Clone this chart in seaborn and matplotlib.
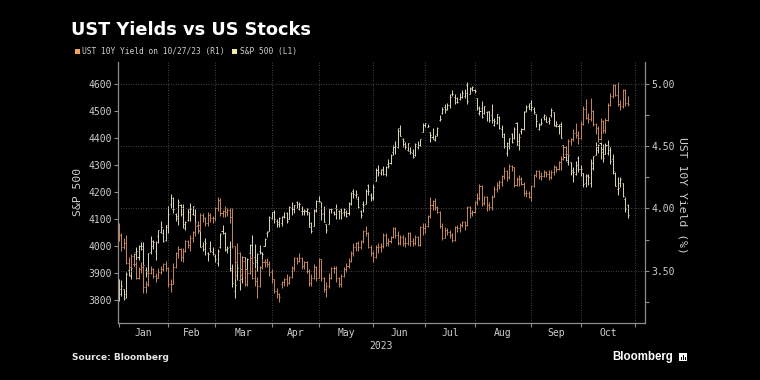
import numpy as np
import pandas as pd
import matplotlib
matplotlib.use("Agg")
import matplotlib.pyplot as plt
from matplotlib.patches import Rectangle
import seaborn as sns

# ---------------- data (daily OHLC, Jan 3 - Oct 27 2023) ----------------
holidays = ["2023-01-16", "2023-02-20", "2023-04-07", "2023-05-29",
            "2023-06-19", "2023-07-04", "2023-09-04"]
month_labels = ["Jan", "Feb", "Mar", "Apr", "May", "Jun", "Jul", "Aug", "Sep", "Oct"]

spx_open = [
    3853, 3840, 3840, 3823, 3910, 3889, 3932, 3977, 3961, 3999, 4002, 3911, 3909, 3979, 4001, 3982, 4036, 4053, 4049, 4021,
    4071, 4158, 4137, 4120, 4106, 4153, 4144, 4069, 4096, 4126, 4119, 4115, 4077, 4057, 4002, 4018, 3973, 3993, 3977,
    3964, 3938, 3998, 4055, 4049, 3988, 3998, 3912, 3835, 3894, 3876, 3878, 3959, 3917, 3975, 4003, 3959, 3940, 3982, 3975, 3999, 4047, 4057,
    4103, 4128, 4094, 4082, 4085, 4111, 4124, 4101, 4140, 4138, 4165, 4139, 4131, 4132, 4132, 4126, 4087, 4075, 4129,
    4166, 4165, 4123, 4082, 4084, 4137, 4125, 4143, 4132, 4139, 4127, 4127, 4123, 4157, 4204, 4191, 4176, 4132, 4155, 4156, 4227, 4191,
    4184, 4242, 4282, 4271, 4285, 4268, 4304, 4308, 4350, 4366, 4366, 4440, 4396, 4380, 4356, 4354, 4345, 4338, 4367, 4375, 4422,
    4451, 4443, 4422, 4404, 4394, 4415, 4467, 4492, 4515, 4508, 4522, 4566, 4554, 4550, 4544, 4555, 4558, 4599, 4565, 4585,
    4579, 4550, 4494, 4514, 4492, 4498, 4502, 4487, 4451, 4458, 4479, 4433, 4416, 4345, 4381, 4416, 4400, 4456, 4390, 4426, 4433, 4500, 4518,
    4530, 4510, 4490, 4434, 4452, 4480, 4473, 4463, 4487, 4498, 4446, 4445, 4453, 4375, 4341, 4311, 4313, 4282, 4269, 4328,
    4285, 4270, 4234, 4259, 4235, 4290, 4339, 4366, 4381, 4360, 4342, 4345, 4358, 4322, 4273, 4211, 4235, 4233, 4176, 4152,
]
spx_high = [
    3879, 3873, 3840, 3906, 3951, 3920, 3971, 3998, 4003, 4015, 4015, 3923, 3973, 4039, 4023, 4019, 4061, 4094, 4063, 4077,
    4148, 4195, 4183, 4124, 4176, 4157, 4157, 4095, 4138, 4159, 4149, 4136, 4082, 4057, 4017, 4029, 3979, 4019, 3998,
    3972, 3990, 4048, 4079, 4051, 4001, 4018, 3934, 3905, 3937, 3894, 3964, 3959, 3956, 4009, 4040, 4007, 3973, 4003, 3979, 4031, 4057, 4110,
    4128, 4134, 4100, 4108, 4110, 4125, 4125, 4148, 4164, 4152, 4169, 4163, 4148, 4139, 4143, 4127, 4089, 4138, 4170,
    4186, 4165, 4148, 4083, 4138, 4143, 4130, 4155, 4133, 4143, 4141, 4135, 4165, 4202, 4213, 4210, 4186, 4133, 4166, 4213, 4232, 4196,
    4232, 4290, 4300, 4288, 4299, 4298, 4322, 4340, 4375, 4391, 4439, 4448, 4400, 4387, 4383, 4366, 4362, 4384, 4390, 4398, 4458,
    4457, 4453, 4423, 4440, 4412, 4441, 4488, 4517, 4528, 4532, 4563, 4578, 4565, 4555, 4568, 4581, 4583, 4607, 4590, 4595,
    4584, 4550, 4519, 4540, 4520, 4503, 4503, 4527, 4476, 4490, 4481, 4450, 4421, 4387, 4401, 4418, 4441, 4459, 4418, 4438, 4501, 4522, 4532,
    4541, 4515, 4491, 4457, 4474, 4490, 4481, 4479, 4511, 4498, 4466, 4452, 4461, 4376, 4357, 4338, 4313, 4292, 4317, 4333,
    4300, 4272, 4268, 4268, 4325, 4336, 4385, 4378, 4386, 4378, 4383, 4394, 4367, 4340, 4276, 4256, 4255, 4236, 4184, 4156,
]
spx_low = [
    3795, 3815, 3802, 3809, 3888, 3878, 3925, 3950, 3947, 3984, 3925, 3885, 3900, 3972, 3989, 3950, 4013, 4049, 4015, 4020,
    4048, 4141, 4124, 4094, 4080, 4112, 4069, 4060, 4092, 4095, 4114, 4089, 4048, 3996, 3982, 3969, 3944, 3977, 3969,
    3940, 3928, 3995, 4044, 3981, 3975, 3909, 3847, 3809, 3874, 3839, 3864, 3901, 3917, 3972, 3937, 3919, 3908, 3971, 3951, 3999, 4033, 4056,
    4101, 4087, 4072, 4070, 4073, 4106, 4087, 4099, 4114, 4124, 4140, 4135, 4115, 4114, 4117, 4071, 4049, 4075, 4127,
    4164, 4098, 4088, 4048, 4084, 4123, 4115, 4099, 4099, 4099, 4110, 4109, 4114, 4153, 4180, 4180, 4143, 4103, 4126, 4155, 4190, 4166,
    4171, 4241, 4262, 4264, 4263, 4261, 4291, 4304, 4337, 4340, 4363, 4407, 4367, 4360, 4352, 4341, 4328, 4336, 4360, 4372, 4422,
    4443, 4441, 4385, 4397, 4389, 4408, 4463, 4490, 4494, 4505, 4514, 4557, 4527, 4532, 4542, 4548, 4548, 4528, 4564, 4575,
    4568, 4505, 4486, 4475, 4491, 4464, 4462, 4458, 4444, 4453, 4433, 4403, 4365, 4335, 4362, 4382, 4397, 4375, 4357, 4415, 4431, 4497, 4507,
    4501, 4491, 4442, 4431, 4451, 4467, 4459, 4454, 4479, 4447, 4443, 4417, 4402, 4329, 4316, 4302, 4265, 4239, 4265, 4274,
    4261, 4220, 4220, 4226, 4219, 4284, 4339, 4345, 4325, 4311, 4342, 4339, 4304, 4268, 4223, 4190, 4220, 4184, 4128, 4104,
]
spx_close = [
    3824, 3853, 3808, 3895, 3892, 3919, 3970, 3983, 3999, 3991, 3929, 3899, 3973, 4020, 4017, 4016, 4060, 4071, 4018, 4077,
    4119, 4180, 4136, 4111, 4164, 4118, 4082, 4090, 4137, 4136, 4148, 4090, 4079, 3997, 3991, 4012, 3970, 3982, 3970,
    3951, 3981, 4046, 4048, 3986, 3992, 3918, 3862, 3856, 3919, 3892, 3960, 3917, 3952, 4003, 3937, 3949, 3971, 3978, 3971, 4028, 4051, 4109,
    4125, 4101, 4090, 4105, 4109, 4109, 4092, 4146, 4138, 4151, 4155, 4155, 4130, 4134, 4137, 4072, 4056, 4135, 4169,
    4168, 4120, 4091, 4061, 4136, 4138, 4119, 4138, 4131, 4124, 4136, 4110, 4159, 4198, 4192, 4193, 4146, 4115, 4151, 4205, 4206, 4180,
    4221, 4282, 4274, 4284, 4268, 4294, 4299, 4339, 4369, 4373, 4426, 4410, 4389, 4366, 4382, 4348, 4329, 4378, 4377, 4396, 4450,
    4456, 4447, 4412, 4399, 4410, 4439, 4472, 4510, 4505, 4523, 4555, 4566, 4535, 4536, 4555, 4567, 4567, 4537, 4582, 4589,
    4577, 4513, 4502, 4478, 4518, 4499, 4468, 4469, 4464, 4490, 4438, 4404, 4370, 4370, 4400, 4388, 4436, 4376, 4406, 4433, 4498, 4515, 4508,
    4516, 4497, 4465, 4451, 4457, 4487, 4462, 4467, 4505, 4450, 4454, 4444, 4402, 4330, 4320, 4337, 4274, 4275, 4300, 4288,
    4288, 4229, 4264, 4258, 4309, 4336, 4358, 4377, 4350, 4328, 4374, 4373, 4315, 4278, 4224, 4217, 4248, 4187, 4137, 4117,
]

ust_open = [
    3.87, 3.79, 3.69, 3.72, 3.56, 3.53, 3.62, 3.55, 3.44, 3.51, 3.53, 3.37, 3.39, 3.48, 3.51, 3.46, 3.44, 3.49, 3.51, 3.55,
    3.52, 3.39, 3.39, 3.53, 3.64, 3.67, 3.61, 3.66, 3.74, 3.71, 3.76, 3.81, 3.86, 3.83, 3.95, 3.92, 3.88, 3.95, 3.92,
    3.92, 4.00, 4.07, 3.96, 3.98, 3.97, 3.99, 3.93, 3.70, 3.57, 3.64, 3.51, 3.58, 3.39, 3.48, 3.60, 3.44, 3.42, 3.38, 3.53, 3.57, 3.57, 3.55,
    3.49, 3.43, 3.34, 3.31, 3.39, 3.41, 3.43, 3.40, 3.45, 3.52, 3.60, 3.58, 3.60, 3.54, 3.57, 3.50, 3.40, 3.44, 3.53,
    3.44, 3.59, 3.44, 3.35, 3.38, 3.44, 3.52, 3.52, 3.44, 3.39, 3.46, 3.51, 3.54, 3.58, 3.64, 3.69, 3.72, 3.69, 3.74, 3.82, 3.80, 3.69,
    3.64, 3.61, 3.69, 3.69, 3.70, 3.79, 3.72, 3.74, 3.77, 3.84, 3.79, 3.72, 3.77, 3.72, 3.72, 3.80, 3.74, 3.72, 3.77, 3.71, 3.85,
    3.84, 3.86, 3.94, 4.03, 4.06, 4.01, 3.97, 3.86, 3.76, 3.83, 3.81, 3.79, 3.75, 3.85, 3.84, 3.87, 3.89, 3.87, 4.01, 3.96,
    3.97, 4.05, 4.08, 4.18, 4.04, 4.09, 4.03, 4.01, 4.09, 4.16, 4.19, 4.21, 4.26, 4.30, 4.25, 4.34, 4.33, 4.19, 4.24, 4.24, 4.20, 4.12, 4.12,
    4.09, 4.18, 4.27, 4.30, 4.26, 4.26, 4.29, 4.28, 4.25, 4.29, 4.33, 4.32, 4.37, 4.40, 4.49, 4.44, 4.54, 4.56, 4.61, 4.59,
    4.57, 4.68, 4.80, 4.73, 4.72, 4.78, 4.68, 4.65, 4.56, 4.70, 4.63, 4.71, 4.83, 4.90, 4.99, 4.91, 4.84, 4.82, 4.95, 4.85,
]
ust_high = [
    3.88, 3.80, 3.76, 3.79, 3.61, 3.63, 3.64, 3.58, 3.53, 3.57, 3.55, 3.42, 3.50, 3.54, 3.52, 3.48, 3.52, 3.54, 3.56, 3.58,
    3.53, 3.43, 3.56, 3.65, 3.70, 3.68, 3.68, 3.75, 3.75, 3.79, 3.82, 3.89, 3.90, 3.96, 3.96, 3.93, 3.97, 3.96, 3.94,
    4.01, 4.09, 4.08, 3.99, 4.02, 4.00, 4.00, 4.00, 3.70, 3.72, 3.65, 3.60, 3.59, 3.51, 3.63, 3.62, 3.51, 3.45, 3.54, 3.59, 3.59, 3.60, 3.58,
    3.51, 3.43, 3.36, 3.32, 3.42, 3.44, 3.47, 3.46, 3.54, 3.61, 3.61, 3.64, 3.61, 3.58, 3.58, 3.51, 3.47, 3.55, 3.54,
    3.60, 3.59, 3.45, 3.41, 3.48, 3.53, 3.54, 3.54, 3.45, 3.47, 3.53, 3.56, 3.60, 3.66, 3.72, 3.73, 3.74, 3.75, 3.83, 3.86, 3.81, 3.71,
    3.66, 3.71, 3.72, 3.72, 3.80, 3.80, 3.76, 3.78, 3.85, 3.85, 3.82, 3.79, 3.79, 3.77, 3.81, 3.81, 3.76, 3.79, 3.78, 3.86, 3.88,
    3.88, 3.95, 4.09, 4.07, 4.08, 4.02, 3.98, 3.88, 3.85, 3.84, 3.83, 3.80, 3.86, 3.87, 3.88, 3.90, 3.90, 4.02, 4.02, 3.99,
    4.06, 4.12, 4.20, 4.19, 4.10, 4.10, 4.05, 4.11, 4.18, 4.21, 4.23, 4.27, 4.33, 4.31, 4.36, 4.35, 4.33, 4.25, 4.27, 4.25, 4.21, 4.15, 4.14,
    4.19, 4.28, 4.31, 4.31, 4.29, 4.31, 4.30, 4.31, 4.31, 4.35, 4.34, 4.38, 4.42, 4.51, 4.50, 4.56, 4.57, 4.64, 4.69, 4.62,
    4.70, 4.82, 4.88, 4.77, 4.89, 4.79, 4.69, 4.66, 4.73, 4.71, 4.73, 4.85, 4.93, 5.00, 5.00, 5.02, 4.87, 4.96, 4.96, 4.90,
]
ust_low = [
    3.74, 3.66, 3.67, 3.55, 3.51, 3.52, 3.54, 3.43, 3.43, 3.48, 3.32, 3.32, 3.38, 3.47, 3.44, 3.41, 3.44, 3.47, 3.50, 3.50,
    3.37, 3.33, 3.39, 3.52, 3.60, 3.58, 3.57, 3.65, 3.68, 3.66, 3.73, 3.78, 3.80, 3.83, 3.89, 3.86, 3.86, 3.89, 3.88,
    3.90, 3.98, 3.94, 3.93, 3.93, 3.94, 3.88, 3.68, 3.43, 3.55, 3.40, 3.45, 3.38, 3.38, 3.47, 3.43, 3.38, 3.28, 3.37, 3.51, 3.53, 3.53, 3.46,
    3.40, 3.32, 3.28, 3.25, 3.36, 3.38, 3.38, 3.39, 3.44, 3.50, 3.55, 3.57, 3.51, 3.51, 3.48, 3.38, 3.38, 3.43, 3.42,
    3.44, 3.42, 3.33, 3.29, 3.36, 3.43, 3.48, 3.41, 3.37, 3.37, 3.45, 3.49, 3.52, 3.57, 3.62, 3.66, 3.66, 3.67, 3.72, 3.78, 3.68, 3.62,
    3.57, 3.60, 3.64, 3.65, 3.68, 3.70, 3.70, 3.72, 3.76, 3.76, 3.71, 3.71, 3.70, 3.69, 3.71, 3.70, 3.70, 3.71, 3.70, 3.70, 3.79,
    3.80, 3.85, 3.92, 3.99, 3.99, 3.96, 3.84, 3.75, 3.76, 3.79, 3.76, 3.73, 3.74, 3.81, 3.81, 3.85, 3.83, 3.86, 3.92, 3.94,
    3.96, 4.03, 4.07, 4.02, 4.03, 3.98, 3.99, 3.99, 4.09, 4.13, 4.16, 4.18, 4.24, 4.22, 4.24, 4.30, 4.17, 4.18, 4.18, 4.19, 4.10, 4.09, 4.08,
    4.06, 4.17, 4.25, 4.24, 4.23, 4.25, 4.25, 4.23, 4.24, 4.27, 4.29, 4.31, 4.31, 4.39, 4.42, 4.43, 4.51, 4.54, 4.57, 4.52,
    4.56, 4.67, 4.72, 4.69, 4.70, 4.66, 4.60, 4.53, 4.55, 4.61, 4.61, 4.70, 4.82, 4.89, 4.90, 4.82, 4.79, 4.81, 4.82, 4.82,
]
ust_close = [
    3.79, 3.69, 3.72, 3.56, 3.53, 3.62, 3.55, 3.44, 3.51, 3.53, 3.37, 3.39, 3.48, 3.51, 3.46, 3.44, 3.49, 3.51, 3.55, 3.52,
    3.39, 3.39, 3.53, 3.64, 3.67, 3.61, 3.66, 3.74, 3.71, 3.76, 3.81, 3.86, 3.83, 3.95, 3.92, 3.88, 3.95, 3.92, 3.92,
    4.00, 4.07, 3.96, 3.98, 3.97, 3.99, 3.93, 3.70, 3.57, 3.64, 3.51, 3.58, 3.39, 3.48, 3.60, 3.44, 3.42, 3.38, 3.53, 3.57, 3.57, 3.55, 3.49,
    3.43, 3.34, 3.31, 3.29, 3.41, 3.43, 3.40, 3.45, 3.52, 3.60, 3.58, 3.60, 3.54, 3.57, 3.50, 3.40, 3.44, 3.53, 3.44,
    3.59, 3.44, 3.35, 3.38, 3.44, 3.52, 3.52, 3.44, 3.39, 3.46, 3.51, 3.54, 3.58, 3.64, 3.69, 3.72, 3.69, 3.74, 3.82, 3.80, 3.69, 3.64,
    3.61, 3.69, 3.69, 3.70, 3.79, 3.72, 3.74, 3.77, 3.84, 3.79, 3.72, 3.77, 3.72, 3.72, 3.80, 3.74, 3.72, 3.77, 3.71, 3.85, 3.84,
    3.86, 3.94, 4.03, 4.06, 4.01, 3.97, 3.86, 3.76, 3.83, 3.81, 3.79, 3.75, 3.85, 3.84, 3.87, 3.89, 3.87, 4.01, 3.96, 3.97,
    4.05, 4.08, 4.18, 4.04, 4.09, 4.03, 4.01, 4.09, 4.16, 4.19, 4.21, 4.26, 4.30, 4.25, 4.34, 4.33, 4.19, 4.24, 4.24, 4.20, 4.12, 4.12, 4.09,
    4.18, 4.27, 4.30, 4.26, 4.26, 4.29, 4.28, 4.25, 4.29, 4.33, 4.32, 4.37, 4.40, 4.49, 4.44, 4.54, 4.56, 4.61, 4.59, 4.57,
    4.68, 4.80, 4.73, 4.72, 4.78, 4.68, 4.65, 4.56, 4.70, 4.63, 4.71, 4.83, 4.90, 4.99, 4.91, 4.84, 4.82, 4.95, 4.85, 4.84,
]

spx_ticks = [3800, 3900, 4000, 4100, 4200, 4300, 4400, 4500, 4600]
ust_ticks = [3.50, 4.00, 4.50, 5.00]
ust_minor = [3.25, 3.75, 4.25, 4.75]

# ---------------- styling ----------------
sns.set_theme(style="dark", rc={
    "axes.facecolor": "black", "figure.facecolor": "black",
    "savefig.facecolor": "black", "axes.edgecolor": "#8c8c8c",
})
plt.rcParams["font.family"] = ["DejaVu Sans Mono", "DejaVu Sans"]

ORANGE = "#c88a5c"
CREAM = "#dad8b6"
ORANGE_KEY = "#f0a35e"
CREAM_KEY = "#f3e9a6"
TXT = "#cfcfcf"
SPINE = "#8c8c8c"
GRID = "#5c5c5c"

# trading-day axis
all_days = pd.bdate_range("2023-01-03", "2023-11-01").difference(pd.DatetimeIndex(holidays))
dates = all_days[all_days <= pd.Timestamp("2023-10-27")]
n = len(dates)
for lst in (spx_open, spx_high, spx_low, spx_close, ust_open, ust_high, ust_low, ust_close):
    assert len(lst) == n, (len(lst), n)
x = np.arange(n)
bounds = [int(np.argmax(all_days.month == m)) for m in range(1, 12)]
mids = [(bounds[i] + bounds[i + 1]) / 2 for i in range(10)]

spx = pd.DataFrame({"x": x, "o": spx_open, "h": spx_high, "l": spx_low, "c": spx_close})
ust = pd.DataFrame({"x": x, "o": ust_open, "h": ust_high, "l": ust_low, "c": ust_close})

W, H = 760, 380
L, R, T, B = 118, 645, 62, 323
fig = plt.figure(figsize=(W / 100, H / 100), dpi=100)
ax = fig.add_axes([L / W, 1 - B / H, (R - L) / W, (B - T) / H])
ax2 = ax.twinx()

LW = 0.7
tw = 0.42
ax.vlines(spx.x, spx.l, spx.h, color=CREAM, lw=LW)
ax.hlines(spx.o, spx.x - tw, spx.x, color=CREAM, lw=LW)
ax.hlines(spx.c, spx.x, spx.x + tw, color=CREAM, lw=LW)

ax2.vlines(ust.x, ust.l, ust.h, color=ORANGE, lw=LW)
ax2.hlines(ust.o, ust.x - tw, ust.x, color=ORANGE, lw=LW)
ax2.hlines(ust.c, ust.x, ust.x + tw, color=ORANGE, lw=LW)

ax.set_xlim(-0.3, 213.0)
ax.set_ylim(3715, 4683)
ax2.set_ylim(3.079, 5.177)

# grids
for b in bounds[1:]:
    ax.axvline(b, color=GRID, lw=0.6, ls=(0, (1, 2)), zorder=0)
for t in ust_ticks:
    ax2.axhline(t, color=GRID, lw=0.6, ls=(0, (1, 2)), zorder=0)
ax.grid(False)
ax2.grid(False)

# spines
for s in ("top", "right"):
    ax.spines[s].set_visible(False)
for s in ("top", "left", "bottom"):
    ax2.spines[s].set_visible(False)
for sp in (ax.spines["left"], ax.spines["bottom"], ax2.spines["right"]):
    sp.set_color(SPINE)
    sp.set_linewidth(0.9)

# ticks
ax.set_yticks(spx_ticks)
ax.set_yticklabels([str(v) for v in spx_ticks])
ax.tick_params(axis="y", left=True, direction="out", length=3, width=0.8,
               color=SPINE, labelcolor=TXT, labelsize=7, pad=1.5)
ax.set_xticks(bounds)
ax.set_xticklabels([""] * len(bounds))
ax.set_xticks(mids, minor=True)
ax.set_xticklabels(month_labels, minor=True)
ax.tick_params(axis="x", which="major", bottom=True, direction="out", length=3,
               width=0.8, color=SPINE)
ax.tick_params(axis="x", which="minor", bottom=True, length=0, labelcolor=TXT,
               labelsize=7, pad=3.5)

ax2.set_yticks(ust_ticks)
ax2.set_yticklabels([f"{v:.2f}" for v in ust_ticks])
ax2.set_yticks(ust_minor, minor=True)
ax2.tick_params(axis="y", which="both", right=True, direction="out", length=3,
                width=0.8, color=SPINE, labelcolor=TXT, labelsize=7, pad=1.5)

# axis titles
fig.text(78 / W, 1 - 192 / H, "S&P 500", rotation=90, ha="center", va="center",
         color=TXT, fontsize=8.2)
fig.text(682 / W, 1 - 195 / H, "UST 10Y Yield (%)", rotation=270, ha="center",
         va="center", color=TXT, fontsize=8.2)
fig.text(381 / W, 1 - 346 / H, "2023", ha="center", va="center", color=TXT, fontsize=7)

# title & legend
fig.text(71 / W, 1 - 35 / H, "UST Yields vs US Stocks", ha="left", va="baseline",
         color="white", fontsize=12.8, fontweight="bold", family="DejaVu Sans")
fig.patches.append(Rectangle((75 / W, 1 - 54 / H), 5 / W, 5 / H, transform=fig.transFigure,
                             facecolor=ORANGE_KEY, edgecolor="none"))
fig.text(82 / W, 1 - 51.5 / H, "UST 10Y Yield on 10/27/23 (R1)", ha="left", va="center",
         color=TXT, fontsize=5.7)
fig.patches.append(Rectangle((232 / W, 1 - 54 / H), 5 / W, 5 / H, transform=fig.transFigure,
                             facecolor=CREAM_KEY, edgecolor="none"))
fig.text(239.5 / W, 1 - 51.5 / H, "S&P 500 (L1)", ha="left", va="center",
         color=TXT, fontsize=5.7)

# footer
fig.text(72 / W, 1 - 358 / H, "Source: Bloomberg", ha="left", va="center",
         color="#e6e6e6", fontsize=6.5, fontweight="bold", family="DejaVu Sans")
fig.text(612 / W, 1 - 357 / H, "Bloomberg", ha="left", va="center",
         color="white", fontsize=8.3, fontweight="bold", family="Liberation Sans")
fig.patches.append(Rectangle((679 / W, 1 - 361 / H), 8 / W, 8 / H, transform=fig.transFigure,
                             facecolor="white", edgecolor="none"))
for bx, bh in ((680.8, 3), (682.8, 4.5), (684.8, 2.5)):
    fig.patches.append(Rectangle((bx / W, 1 - 359.5 / H), 1.2 / W, bh / H,
                                 transform=fig.transFigure, facecolor="black",
                                 edgecolor="none"))

fig.savefig("out.png", dpi=100, facecolor="black")
